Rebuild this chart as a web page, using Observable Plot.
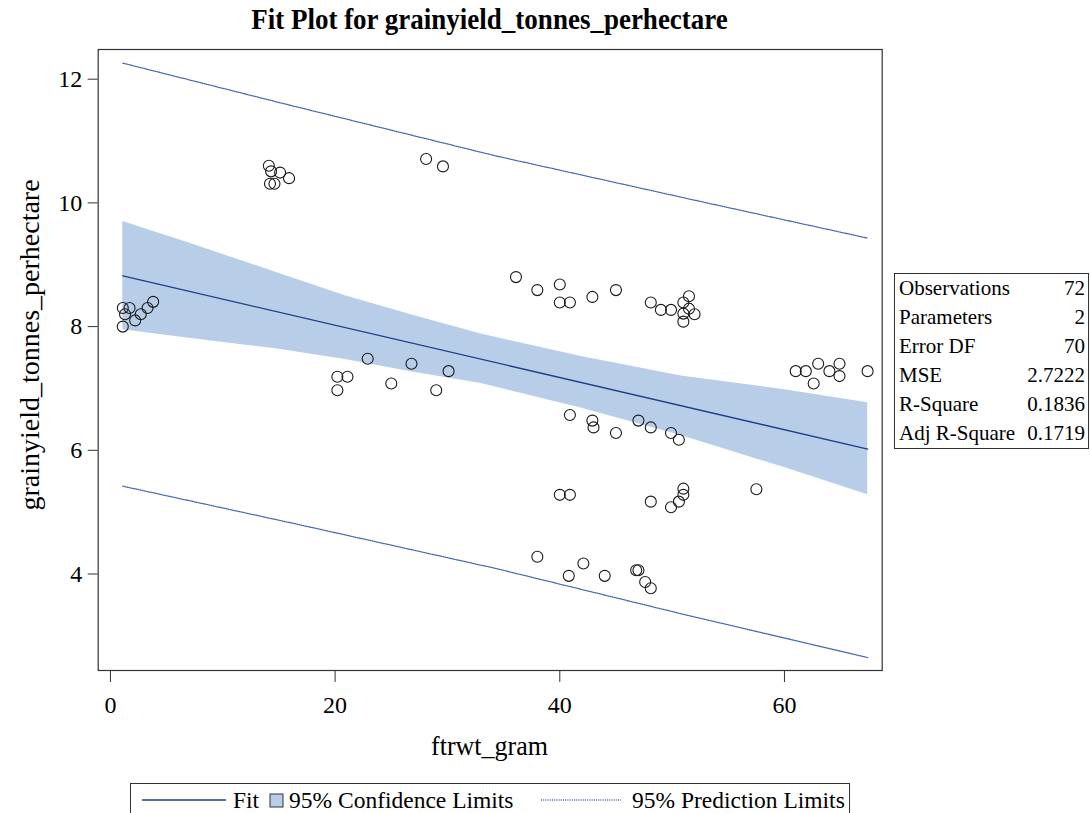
<!DOCTYPE html>
<html>
<head>
<meta charset="utf-8">
<script src="https://cdn.jsdelivr.net/npm/d3@7"></script>
<script src="https://cdn.jsdelivr.net/npm/@observablehq/plot@0.6"></script>
<style>
  body { margin: 0; background: #fff; }
  #wrap { position: relative; width: 1090px; height: 813px; overflow: hidden; font-family: "Liberation Serif", "DejaVu Serif", serif; color: #000; }
  #chart { position: absolute; left: 0; top: 0; }
  .abs { position: absolute; white-space: nowrap; }
  #title { left: 97px; width: 785px; top: 4px; text-align: center; font-weight: bold; font-size: 27px; transform: scaleY(1.08); }
  #xlabel { left: 97px; width: 785px; top: 731px; text-align: center; font-size: 26px; transform: scaleY(1.08); }
  #ylabel { left: 30px; top: 345px; font-size: 28px; transform: translate(-50%, -50%) rotate(-90deg) scaleY(0.95); }
  #stats { left: 894px; top: 273px; width: 193px; border: 1px solid #333; background: #fff; font-size: 21px; }
  #stats table { border-collapse: collapse; width: 100%; }
  #stats td { padding: 0 3px 0 4px; height: 29px; line-height: 29px; }
  #stats td.v { text-align: right; }
  #legend { left: 130px; top: 783px; width: 720px; height: 40px; border: 1px solid #333; font-size: 23.5px; padding-top: 1px; box-sizing: border-box; }
  #legend .item { position: absolute; top: 1px; display: flex; align-items: center; height: 30px; }
  #legend svg { display: block; }
</style>
</head>
<body>
<div id="wrap">
  <div id="chart"></div>
  <div id="title" class="abs">Fit Plot for grainyield_tonnes_perhectare</div>
  <div id="xlabel" class="abs">ftrwt_gram</div>
  <div id="ylabel" class="abs">grainyield_tonnes_perhectare</div>
  <div id="stats" class="abs"></div>
  <div id="legend" class="abs"></div>
</div>
<script>
const obsX = [
  1.1, 1.7, 1.3, 2.2, 2.7, 3.3, 3.8, 1.1,
  14.1, 14.3, 15.1, 15.9, 14.2, 14.6,
  28.1, 29.6,
  22.9, 20.2, 21.1, 20.2, 25.0, 26.8, 30.1, 29.0,
  36.1, 38.0, 40.0, 40.0, 40.9, 42.9, 45.0, 48.1, 49.0, 49.9, 51.5, 51.0, 51.5, 51.0, 52.0, 51.0,
  61.0, 61.9, 63.0, 64.0, 64.9, 64.9, 62.6, 67.4,
  40.9, 42.9, 43.0, 45.0, 47.0, 48.1, 49.9, 50.6,
  40.0, 40.9, 48.1, 49.9, 50.6, 51.0, 51.0, 57.5,
  38.0, 42.1, 40.8, 44.0, 46.8, 47.0, 47.6, 48.1
];
const obsY = [
  8.30, 8.30, 8.20, 8.10, 8.20, 8.30, 8.40, 8.00,
  10.60, 10.51, 10.49, 10.40, 10.31, 10.31,
  10.71, 10.59,
  7.48, 7.19, 7.19, 6.97, 7.08, 7.40, 7.28, 6.97,
  8.80, 8.59, 8.68, 8.39, 8.39, 8.48, 8.59, 8.39, 8.27, 8.27, 8.49, 8.39, 8.29, 8.21, 8.20, 8.08,
  7.28, 7.28, 7.40, 7.28, 7.40, 7.20, 7.08, 7.28,
  6.57, 6.48, 6.37, 6.28, 6.48, 6.37, 6.28, 6.17,
  5.28, 5.28, 5.17, 5.08, 5.17, 5.28, 5.38, 5.37,
  4.28, 4.17, 3.97, 3.97, 4.06, 4.06, 3.87, 3.77
];

// ---- Fit line ----
const fitX = [1.1, 67.41];
const fitY = [8.82, 6.02];

// ---- 95% confidence band ----
const bandX     = [1.1, 7.0, 14.7, 20.9, 27.0, 33.0, 41.8, 50.8, 60.0, 67.41];
const bandUpper = [9.70, 9.35, 8.88, 8.50, 8.18, 7.88, 7.52, 7.20, 6.98, 6.77];
const bandLower = [7.95, 7.81, 7.64, 7.47, 7.26, 7.08, 6.69, 6.24, 5.72, 5.28];

// ---- 95% prediction limits ----
const predUpX = [1.1, 15.3, 34.3, 52.1, 67.41];
const predUpY = [12.26, 11.61, 10.76, 10.04, 9.43];
const predLoX = [1.1, 16.5, 34.3, 52.1, 67.41];
const predLoY = [5.42, 4.81, 4.09, 3.30, 2.65];

// ---- Axis ticks ----
const xTicks = [0, 20, 40, 60];
const yTicks = [4, 6, 8, 10, 12];

// ---- Fit statistics ----
const statLabels = ["Observations", "Parameters", "Error DF", "MSE", "R-Square", "Adj R-Square"];
const statValues = ["72", "2", "70", "2.7222", "0.1836", "0.1719"];

// ---- Legend ----
const legendLabels = ["Fit", "95% Confidence Limits", "95% Prediction Limits"];

// colours
const bandColor = "#b8cde8";
const fitColor = "#1d3f87";
const predColor = "#4468b0";

const obs = obsX.map((x, i) => ({x, y: obsY[i]}));
const fit = fitX.map((x, i) => ({x, y: fitY[i]}));
const band = bandX.map((x, i) => ({x, lo: bandLower[i], hi: bandUpper[i]}));
const predUp = predUpX.map((x, i) => ({x, y: predUpY[i]}));
const predLo = predLoX.map((x, i) => ({x, y: predLoY[i]}));

const chart = Plot.plot({
  width: 1090,
  height: 813,
  marginLeft: 97.7,
  marginRight: 208.3,
  marginTop: 49,
  marginBottom: 143,
  style: {fontFamily: "'Liberation Serif', serif", fontSize: "22px", color: "#000", background: "transparent"},
  x: {domain: [-1.09, 68.7], ticks: xTicks, label: null},
  y: {domain: [2.44, 12.48], ticks: yTicks, label: null},
  marks: [
    Plot.areaY(band, {x: "x", y1: "lo", y2: "hi", fill: bandColor, fillOpacity: 1, curve: "linear"}),
    Plot.line(fit, {x: "x", y: "y", stroke: fitColor, strokeWidth: 1.4}),
    Plot.line(predUp, {x: "x", y: "y", stroke: predColor, strokeWidth: 1.3, strokeDasharray: "1,1.2", curve: "linear"}),
    Plot.line(predLo, {x: "x", y: "y", stroke: predColor, strokeWidth: 1.3, strokeDasharray: "1,1.2", curve: "linear"}),
    Plot.dot(obs, {x: "x", y: "y", r: 5.5, stroke: "#1a1a1a", strokeWidth: 1.1, fill: "none"}),
    Plot.frame({stroke: "#333", strokeWidth: 1.2}),
    Plot.axisX({ticks: xTicks, tickSize: 12, tickPadding: 13, stroke: "#333", label: null, fontSize: 24}),
    Plot.axisY({ticks: yTicks, tickSize: 10, tickPadding: 6, stroke: "#333", label: null, fontSize: 24})
  ]
});
document.getElementById("chart").appendChild(chart);

// stats table
const tbl = d3.select("#stats").append("table");
statLabels.forEach((l, i) => {
  const tr = tbl.append("tr");
  tr.append("td").text(l);
  tr.append("td").attr("class", "v").text(statValues[i]);
});

// legend (positions relative to the legend box, left edge at x=130)
const leg = d3.select("#legend");
function item(kind, label, left, textGap) {
  const it = leg.append("div").attr("class", "item").style("left", left + "px");
  const sw = it.append("svg");
  if (kind === "fit") {
    sw.attr("width", 85).attr("height", 14);
    sw.append("line").attr("x1", 0).attr("x2", 84).attr("y1", 7).attr("y2", 7).attr("stroke", fitColor).attr("stroke-width", 1.4);
  } else if (kind === "band") {
    sw.attr("width", 15).attr("height", 15);
    sw.append("rect").attr("x", 1).attr("y", 1).attr("width", 13).attr("height", 13).attr("fill", bandColor).attr("stroke", "#333");
  } else {
    sw.attr("width", 81).attr("height", 14);
    sw.append("line").attr("x1", 0).attr("x2", 80).attr("y1", 7).attr("y2", 7).attr("stroke", predColor).attr("stroke-width", 1.3).attr("stroke-dasharray", "1,1.2");
  }
  it.append("span").style("margin-left", textGap + "px").text(label);
}
item("fit", legendLabels[0], 11, 6);
item("band", legendLabels[1], 138, 5);
item("pred", legendLabels[2], 410, 10);
</script>
</body>
</html>
